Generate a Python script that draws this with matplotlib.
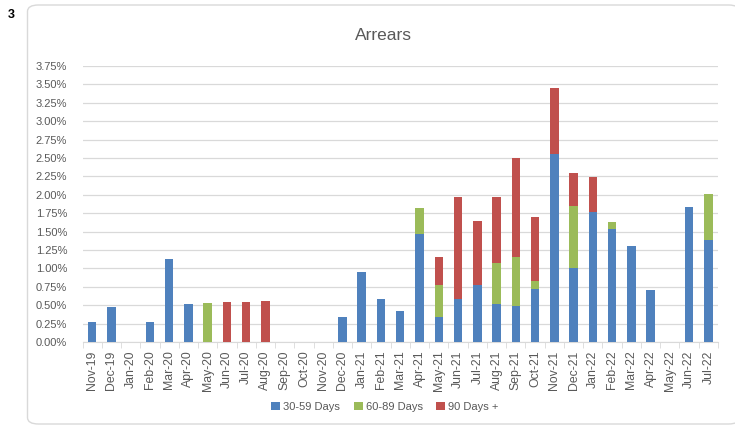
import numpy as np
import matplotlib.pyplot as plt
from matplotlib.patches import FancyBboxPatch, Patch
from matplotlib.ticker import FixedLocator, FuncFormatter

# months shown on the x axis
months = ["Nov-19", "Dec-19",
          "Jan-20", "Feb-20", "Mar-20", "Apr-20", "May-20", "Jun-20",
          "Jul-20", "Aug-20", "Sep-20", "Oct-20", "Nov-20", "Dec-20",
          "Jan-21", "Feb-21", "Mar-21", "Apr-21", "May-21", "Jun-21",
          "Jul-21", "Aug-21", "Sep-21", "Oct-21", "Nov-21", "Dec-21",
          "Jan-22", "Feb-22", "Mar-22", "Apr-22", "May-22", "Jun-22", "Jul-22"]

# arrears in % of book
d30_59 = [0.27, 0.47, 0.00, 0.27, 1.13, 0.52, 0.00, 0.00, 0.00, 0.00, 0.00,
          0.00, 0.00, 0.34, 0.95, 0.58, 0.42, 1.47, 0.34, 0.58, 0.78, 0.52,
          0.49, 0.72, 2.56, 1.01, 1.77, 1.53, 1.30, 0.71, 0.00, 1.83, 1.38]
d60_89 = [0.00, 0.00, 0.00, 0.00, 0.00, 0.00, 0.53, 0.00, 0.00, 0.00, 0.00,
          0.00, 0.00, 0.00, 0.00, 0.00, 0.00, 0.35, 0.44, 0.00, 0.00, 0.55,
          0.66, 0.11, 0.00, 0.84, 0.00, 0.10, 0.00, 0.00, 0.00, 0.00, 0.63]
d90_plus = [0.00, 0.00, 0.00, 0.00, 0.00, 0.00, 0.00, 0.55, 0.55, 0.56, 0.00,
            0.00, 0.00, 0.00, 0.00, 0.00, 0.00, 0.00, 0.37, 1.39, 0.87, 0.90,
            1.35, 0.87, 0.89, 0.45, 0.47, 0.00, 0.00, 0.00, 0.00, 0.00, 0.00]

series_names = ["30-59 Days", "60-89 Days", "90 Days +"]
colors = ["#4F81BD", "#9BBB59", "#C0504D"]
yticks = np.arange(0, 3.76, 0.25)

grey = "#595959"
plt.rcParams["font.family"] = ["Liberation Sans", "DejaVu Sans"]

fig = plt.figure(figsize=(7.35, 4.26), dpi=100)

# rounded chart frame + page number
frame = FancyBboxPatch((27.5 / 735, 2 / 426), 712 / 735, 419 / 426,
                       boxstyle="round,pad=0,rounding_size=0.015",
                       transform=fig.transFigure, fc="white", ec="#D9D9D9",
                       lw=1.0, zorder=-5)
fig.patches.append(frame)
fig.text(8 / 735, 1 - 15 / 426, "3", fontsize=9, fontweight="bold",
         va="center", ha="left")

ax = fig.add_axes([82.5 / 735, 1 - 342 / 426, 635.5 / 735, 276 / 426])
ax.set_zorder(2)
ax.patch.set_alpha(0)
x = np.arange(len(months))
w = 0.44
bottom = np.zeros(len(months))
for vals, c in zip([d30_59, d60_89, d90_plus], colors):
    vals = np.array(vals)
    ax.bar(x, vals, w, bottom=bottom, color=c, zorder=3)
    bottom += vals

ax.set_xlim(-0.5, len(months) - 0.5)
ax.set_ylim(0, 3.75)
ax.set_yticks(yticks)
ax.yaxis.set_major_formatter(FuncFormatter(lambda v, p: f"{v:.2f}%"))
ax.grid(axis="y", color="#D9D9D9", lw=0.9, zorder=0)
ax.set_xticks(x)
ax.set_xticklabels(months, rotation=90)
ax.xaxis.set_minor_locator(FixedLocator(np.arange(-0.5, len(months), 1)))
ax.tick_params(axis="x", which="major", length=0, pad=6, labelsize=8.8,
               labelcolor=grey)
ax.tick_params(axis="x", which="minor", length=4, color="#D9D9D9")
ax.tick_params(axis="y", length=0, pad=11, labelsize=8, labelcolor=grey)
for s in ["top", "right", "left"]:
    ax.spines[s].set_visible(False)
ax.spines["bottom"].set_color("#D9D9D9")

fig.text(383 / 735, 1 - 35 / 426, "Arrears", fontsize=12.5, color=grey,
         ha="center", va="center")

handles = [Patch(facecolor=c, label=n) for c, n in zip(colors, series_names)]
fig.legend(handles=handles, loc="center", bbox_to_anchor=(385 / 735, 1 - 407 / 426),
           ncol=3, frameon=False, fontsize=8, handlelength=0.8,
           handleheight=0.8, handletextpad=0.3, columnspacing=1.2,
           labelcolor=grey)

fig.savefig("out.png", dpi=100)
